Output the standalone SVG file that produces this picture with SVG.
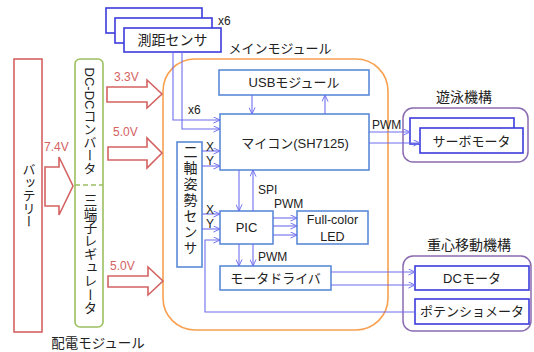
<svg xmlns="http://www.w3.org/2000/svg" width="534" height="352" viewBox="0 0 534 352">
<defs>
<style>
text{font-family:"Liberation Sans","Noto Sans CJK JP",sans-serif;fill:#222;dominant-baseline:central}
.c{text-anchor:middle}
.v{writing-mode:vertical-rl;text-anchor:middle}
.red{fill:#d46262;font-size:12px}
.b1{fill:#fff;stroke:#5b8ad8;stroke-width:1.6}
.b2{fill:#fff;stroke:#3b3bdb;stroke-width:1.6}
.grp{fill:none;stroke:#8a6ab0;stroke-width:1.5}
.pw{fill:#fff;stroke:#d46262;stroke-width:1.6}
.ln{fill:none;stroke:#6e6ef0;stroke-width:1.1;marker-end:url(#a)}
</style>
<marker id="a" viewBox="0 0 8 8" refX="7.5" refY="4" markerWidth="7" markerHeight="7" markerUnits="userSpaceOnUse" orient="auto">
<path d="M0,0.5 L7.5,4 L0,7.5" fill="none" stroke="#6e6ef0" stroke-width="1.1"/>
</marker>
</defs>

<g id="main-module">
<rect x="163" y="59" width="225" height="271" rx="32" fill="none" stroke="#f8a050" stroke-width="1.6"/>
<text x="280" y="48" class="c" font-size="13">メインモジュール</text>
</g>

<g id="battery">
<rect x="14" y="59" width="28" height="273" fill="#fff" stroke="#d46262" stroke-width="1.6"/>
<text x="28" y="195" class="v" font-size="13">バッテリー</text>
</g>

<g id="power-module">
<rect x="75" y="59" width="28" height="268" rx="5" fill="#fff" stroke="#9bc060" stroke-width="1.6"/>
<line x1="75" y1="185" x2="103" y2="185" stroke="#9bc060" stroke-width="1.6" stroke-dasharray="5,3"/>
<text x="89" y="121" class="v" font-size="13">DC-DCコンバータ</text>
<text x="89" y="254" class="v" font-size="13.5">三端子レギュレータ</text>
<text x="98" y="343" class="c" font-size="13.5">配電モジュール</text>
</g>

<g id="power-arrows">
<polygon class="pw" points="45,167 59,167 59,157 73,186 59,215 59,206 45,206"/>
<text x="44" y="147" class="red">7.4V</text>
<polygon class="pw" points="107,87 147,87 147,80 162,94 147,108 147,102 107,102"/>
<text x="114" y="77" class="red">3.3V</text>
<polygon class="pw" points="108,147 147,147 147,138 162,153 147,168 147,160 108,160"/>
<text x="113" y="132" class="red">5.0V</text>
<polygon class="pw" points="108,276 148,276 148,267 163,281 148,295 148,287 108,287"/>
<text x="110" y="266" class="red">5.0V</text>
</g>

<g id="distance-sensor">
<rect class="b2" x="106" y="8" width="96" height="25"/>
<rect class="b2" x="115" y="18" width="97" height="25"/>
<rect class="b2" x="124" y="28" width="97" height="24"/>
<text x="172.5" y="40" class="c" font-size="14">測距センサ</text>
<text x="218" y="21" font-size="12">x6</text>
</g>

<g id="usb-module">
<rect class="b1" x="219" y="70" width="150" height="25"/>
<text x="294" y="82.5" class="c" font-size="13">USBモジュール</text>
</g>

<g id="microcontroller">
<rect class="b1" x="220" y="114" width="149" height="56"/>
<text x="295" y="143" class="c" font-size="13">マイコン(SH7125)</text>
</g>

<g id="two-axis-sensor">
<rect class="b1" x="177" y="142" width="25" height="125"/>
<text x="189.5" y="201" class="v" font-size="14" letter-spacing="2">二軸姿勢センサ</text>
</g>

<g id="pic">
<rect class="b1" x="220" y="211" width="53" height="33"/>
<text x="246.5" y="227.5" class="c" font-size="13">PIC</text>
</g>

<g id="full-color-led">
<rect class="b1" x="297" y="211" width="71" height="33"/>
<text x="332.5" y="220" class="c" font-size="12.5">Full-color</text>
<text x="332.5" y="237" class="c" font-size="12.5">LED</text>
</g>

<g id="motor-driver">
<rect class="b1" x="220" y="266" width="111" height="24"/>
<text x="275.5" y="278" class="c" font-size="13">モータドライバ</text>
</g>

<g id="swim-mechanism">
<rect class="grp" x="403" y="108" width="125" height="54" rx="10"/>
<text x="464" y="97" class="c" font-size="14">遊泳機構</text>
<rect class="b2" x="410" y="118" width="104" height="26"/>
<rect class="b2" x="420" y="128" width="103" height="25"/>
<text x="471.5" y="141" class="c" font-size="13">サーボモータ</text>
</g>

<g id="cog-mechanism">
<rect class="grp" x="403" y="256" width="128" height="75" rx="10"/>
<text x="469" y="245" class="c" font-size="14">重心移動機構</text>
<rect class="b2" x="415" y="266" width="114" height="24"/>
<text x="472" y="278" class="c" font-size="13">DCモータ</text>
<rect class="b2" x="415" y="299" width="114" height="25"/>
<text x="472" y="311.5" class="c" font-size="13">ポテンショメータ</text>
</g>

<g id="connectors">
<path class="ln" d="M173,52 V120 H220"/>
<path class="ln" d="M182,52 V129 H220"/>
<path class="ln" d="M252,95 V114"/>
<path class="ln" d="M325,114 V95"/>
<path class="ln" d="M202,151 H220"/>
<path class="ln" d="M202,166 H220"/>
<path class="ln" d="M239,170 V211"/>
<path class="ln" d="M253,211 V170"/>
<path class="ln" d="M202,214 H220"/>
<path class="ln" d="M202,229 H220"/>
<path class="ln" d="M415,312 H205 V240 H220"/>
<path class="ln" d="M273,218 H297"/>
<path class="ln" d="M273,226 H297"/>
<path class="ln" d="M273,235 H297"/>
<path class="ln" d="M239,244 V266"/>
<path class="ln" d="M253,244 V266"/>
<path class="ln" d="M331,272 H415"/>
<path class="ln" d="M331,285 H415"/>
<path class="ln" d="M369,132 H410"/>
<path class="ln" d="M369,143 H420"/>
<text x="188" y="110" font-size="12">x6</text>
<text x="206" y="147" font-size="12">X</text>
<text x="206" y="161" font-size="12">Y</text>
<text x="206" y="210" font-size="12">X</text>
<text x="206" y="224" font-size="12">Y</text>
<text x="258" y="190" font-size="12">SPI</text>
<text x="274" y="204" font-size="12">PWM</text>
<text x="258" y="257" font-size="12">PWM</text>
<text x="372" y="125" font-size="12">PWM</text>
</g>
</svg>
